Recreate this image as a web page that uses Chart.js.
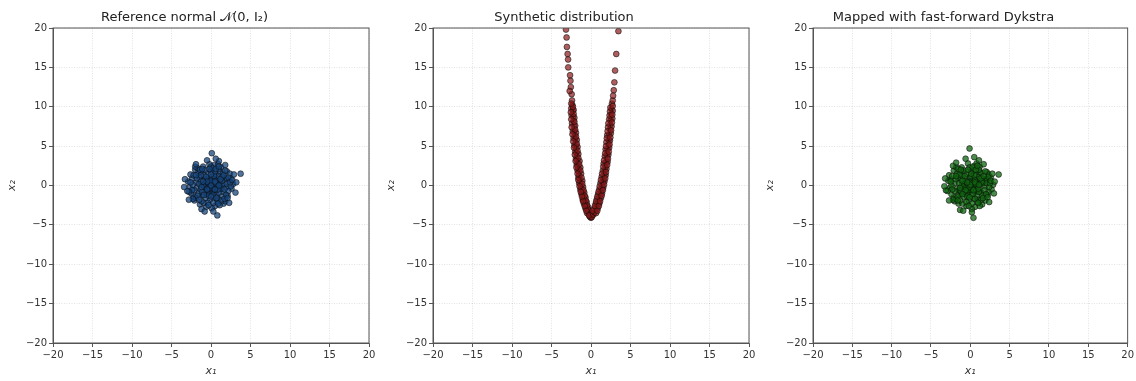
<!DOCTYPE html>
<html>
<head>
<meta charset="utf-8">
<script src="https://cdn.jsdelivr.net/npm/chart.js@4/dist/chart.umd.min.js"></script>
<style>
  body { margin: 0; background: #fff; }
  .panel { position: absolute; top: 0; height: 381px; }
</style>
</head>
<body>
<div class="panel" style="left:0px"><canvas id="c1" width="379" height="381"></canvas></div>
<div class="panel" style="left:379px"><canvas id="c2" width="379" height="381"></canvas></div>
<div class="panel" style="left:758px"><canvas id="c3" width="378" height="381"></canvas></div>
<script>
// axis ticks shared by all three panels
const tickValues = [-20, -15, -10, -5, 0, 5, 10, 15, 20];

// samples from the reference gaussian
const refPoints = [
  [0.1,0.2],[-0.4,0.5],[0.6,-0.3],[-0.7,-0.4],[0.3,0.8],[-0.2,-0.9],[0.9,0.4],[-0.9,0.3],[0.5,-0.8],[-0.5,-0.1],
  [0.0,-0.4],[0.2,0.5],[-0.3,0.1],[0.7,0.1],[-0.1,0.9],[0.4,-0.1],[-0.8,0.8],[0.8,0.9],[-0.6,-0.9],[0.1,-0.7],
  [0.25,-0.15],[-0.15,0.35],[0.55,0.6],[-0.65,0.15],[0.35,-0.45],[-0.35,-0.6],[0.75,-0.55],[-0.85,-0.15],[0.15,1.1],[-0.25,-1.1],
  [1.2,-0.1],[-1.2,0.25],[0.45,0.25],[-0.45,0.85],[0.95,-0.15],[-0.05,0.6],
  [1.2,0.3],[-1.3,0.6],[1.5,-0.8],[-1.1,-1.2],[0.6,1.5],[-0.4,1.6],[1.0,1.2],[-1.5,1.1],[0.3,-1.5],[-0.7,-1.6],
  [1.7,0.9],[-1.8,-0.3],[1.4,-1.4],[-1.2,1.7],[0.9,-1.7],[-1.9,0.4],[1.9,-0.2],[0.0,1.9],[-0.1,-1.8],[1.1,1.8],
  [-1.6,-1.0],[1.6,0.1],[-0.9,1.3],[0.4,1.2],[-1.3,-0.5],[1.3,-0.4],[-0.3,-1.3],[0.7,-1.2],[-1.0,0.0],[1.0,-0.9],
  [2.3,0.6],[-2.4,0.9],[2.1,-1.3],[-2.2,-1.4],[1.3,2.3],[-1.0,2.4],[0.4,2.6],[-0.2,2.7],[2.6,-0.4],[-2.7,-0.2],
  [1.6,-2.3],[-1.4,-2.4],[0.5,-2.6],[-0.6,-2.7],[2.0,1.8],[-2.0,2.0],[2.4,1.5],[-2.5,-1.0],[0.9,2.7],[-1.7,2.2],
  [2.8,0.2],[-2.9,0.5],[1.8,-2.0],[-2.1,-1.9],[0.1,-2.9],[0.0,2.4],[2.2,-0.7],[-2.3,0.1],[1.1,-2.5],[-0.9,-2.2],
  [1.5,1.5],[-1.6,1.6],[1.9,0.9],[-1.9,-1.6],[2.5,0.9],[-2.6,1.4],
  [0.6,0.3],[-0.2,-0.3],[1.4,0.6],[-1.5,0.2],[0.9,-0.5],[-0.6,1.1],[0.2,-1.2],[-1.1,-0.8],[1.7,-0.5],[-1.8,0.9],
  [0.5,1.8],[-0.7,2.0],[1.4,1.1],[-1.3,1.3],[0.8,-2.0],[-0.4,-2.2],[2.0,0.2],[-2.1,-0.6],[1.9,-1.2],[-1.7,-1.3],
  [2.2,1.0],[-2.2,1.3],[1.0,2.1],[-1.4,2.0],[0.2,2.2],[0.3,-2.2],[-1.2,-2.0],[1.3,-1.9],[2.5,-0.1],[-2.6,0.4],
  [0.0,0.0],[0.5,0.5],[-0.5,0.5],[-0.5,-0.5],[0.5,-0.5],[1.0,0.0],[-1.0,0.5],[0.0,1.4],[0.0,-1.4],[1.2,0.8],
  [-1.2,-0.2],[0.7,-1.6],[-0.9,-1.2],[1.6,1.3],[-1.9,1.3],[2.4,0.4],[-2.4,-0.6],[1.7,-1.7],[-1.1,2.1],[0.6,2.1],
  [-0.2,2.1],[2.1,-1.6],[-2.3,-1.7],[1.0,2.4],[-2.8,-0.8],[2.7,0.7],[-0.3,-2.5],[0.9,-2.3],[-1.5,-1.8],[1.8,1.9],
  [0.1,4.1],[3.75,1.5],[0.8,-3.8],[-2.0,2.4],[-3.3,0.8],[3.1,-0.9],[-3.0,-0.7],[-0.5,3.2],[1.0,3.1],[-1.2,-3.0],
  [2.3,-2.2],[-3.4,-0.2],[2.9,1.4],[0.3,-3.3],[-1.9,2.7],[3.2,0.4],[-2.8,-1.8],[1.8,2.6],[0.6,3.4],[-0.8,-3.3]
];

// synthetic banana-shaped samples
const synPoints = [
  [0.0,-4.1],[-0.15,-3.9],[0.15,-3.8],[-0.3,-3.6],[-0.4,-3.2],[-0.55,-3.0],[-0.6,-2.6],[-0.75,-2.4],[-0.8,-2.0],[-0.95,-1.7],
  [-1.0,-1.3],[-1.1,-1.0],[-1.15,-0.6],[-1.25,-0.3],[-1.3,0.1],[-1.4,0.5],[-1.45,0.9],[-1.5,1.3],[-1.55,1.8],[-1.6,2.2],
  [-1.7,2.7],[-1.75,3.2],[-1.8,3.7],[-1.85,4.2],[-1.9,4.8],[-1.95,5.3],[-2.0,5.9],[-2.05,6.4],[-2.1,7.0],[-2.15,7.6],
  [-2.2,8.2],[-2.25,8.8],[-2.3,9.5],[-2.35,10.2],[-2.4,10.8],
  [-0.5,-3.5],[-0.7,-2.9],[-0.9,-2.3],[-1.05,-1.8],[-1.2,-1.1],[-1.35,-0.5],[-1.5,0.3],[-1.6,1.0],[-1.7,1.9],[-1.8,2.6],
  [-1.9,3.4],[-2.0,4.3],[-2.1,5.1],[-2.2,6.0],[-2.3,6.9],[-2.4,7.9],[-2.45,8.9],[-2.5,9.8],
  [-0.2,-3.3],[-0.4,-2.7],[-0.55,-2.1],[-0.7,-1.5],[-0.85,-0.9],[-1.0,-0.2],[-1.1,0.6],[-1.25,1.5],[-1.35,2.3],[-1.45,3.1],
  [-1.6,4.0],[-1.7,4.9],[-1.8,5.8],[-1.9,6.7],[-2.0,7.6],[-2.1,8.6],[-2.2,9.6],
  [-0.1,-3.6],[-0.35,-3.0],[-0.5,-2.5],[-0.65,-1.9],[-0.8,-1.3],[-0.95,-0.6],[-1.1,0.2],[-1.2,1.0],[-1.35,1.9],[-1.5,2.7],
  [-1.6,3.5],[-1.7,4.4],[-1.8,5.3],[-1.9,6.2],[-2.0,7.1],[-2.1,8.1],[-2.2,9.1],[-2.3,10.0],
  [-0.6,-3.2],[-0.8,-2.6],[-1.0,-2.0],[-1.15,-1.4],[-1.3,-0.8],[-1.45,-0.1],[-1.6,0.7],[-1.7,1.5],[-1.85,2.3],[-1.95,3.1],
  [-2.05,3.9],[-2.15,4.8],[-2.25,5.6],[-2.35,6.5],[-2.45,7.4],[-2.5,8.4],[-2.55,9.3],[-2.5,10.4],
  [-2.45,11.6],[-2.55,12.5],[-2.6,13.3],[-2.65,14.0],[-2.88,15.0],[-2.96,16.7],[-3.05,17.6],[-3.09,18.8],[-3.17,19.8],[-2.7,12.0],[-2.9,16.0],
  [-0.1,-4.0],[0.1,-4.0],[0.05,-3.6],[-0.25,-3.8],[0.25,-3.5],
  [0.3,-3.7],[0.45,-3.4],[0.6,-3.1],[0.7,-2.7],[0.85,-2.4],[0.95,-2.0],[1.05,-1.6],[1.15,-1.2],[1.25,-0.8],[1.35,-0.4],
  [1.45,0.0],[1.55,0.5],[1.6,0.9],[1.7,1.4],[1.75,1.9],[1.85,2.4],[1.9,2.9],[2.0,3.5],[2.05,4.0],[2.1,4.6],
  [2.2,5.2],[2.25,5.8],[2.3,6.4],[2.4,7.1],[2.45,7.7],[2.5,8.3],[2.55,9.0],[2.6,9.7],[2.65,10.4],
  [0.65,-3.5],[0.85,-2.9],[1.05,-2.3],[1.25,-1.6],[1.4,-1.0],[1.55,-0.3],[1.7,0.5],[1.85,1.3],[1.95,2.1],[2.1,3.0],
  [2.2,3.9],[2.3,4.8],[2.4,5.7],[2.5,6.6],[2.6,7.5],[2.7,8.5],[2.75,9.5],
  [0.4,-2.9],[0.6,-2.3],[0.75,-1.7],[0.9,-1.1],[1.05,-0.5],[1.2,0.3],[1.35,1.1],[1.5,1.9],[1.6,2.8],[1.75,3.7],
  [1.85,4.6],[1.95,5.5],[2.05,6.4],[2.15,7.4],[2.3,8.4],[2.4,9.4],
  [0.2,-3.2],[0.5,-2.6],[0.65,-2.0],[0.8,-1.4],[0.95,-0.8],[1.1,-0.1],[1.25,0.7],[1.4,1.5],[1.55,2.4],[1.65,3.2],
  [1.8,4.1],[1.9,5.0],[2.0,6.0],[2.1,6.9],[2.2,7.9],[2.35,8.9],[2.45,9.9],
  [0.8,-3.2],[1.0,-2.6],[1.15,-2.0],[1.35,-1.3],[1.5,-0.6],[1.65,0.1],[1.8,0.9],[1.9,1.7],[2.05,2.6],[2.15,3.4],
  [2.25,4.3],[2.35,5.2],[2.45,6.1],[2.55,7.0],[2.65,8.0],[2.7,9.0],[2.75,10.1],
  [2.75,10.8],[2.88,12.1],[2.96,13.1],[3.05,14.6],[3.2,16.7],[3.47,19.6],[2.8,11.4]
];

// synthetic samples pushed back through the map
const mapPoints = [
  [0.2,0.1],[-0.3,0.6],[0.5,-0.4],[-0.6,-0.3],[0.4,0.9],[-0.1,-0.8],[0.8,0.5],[-0.8,0.2],[0.6,-0.9],[-0.4,-0.2],
  [0.1,-0.5],[0.3,0.4],[-0.2,0.2],[0.8,0.0],[0.0,1.0],[0.5,0.0],[-0.7,0.9],[0.9,0.8],[-0.5,-1.0],[0.2,-0.6],
  [0.3,-0.2],[-0.1,0.4],[0.6,0.7],[-0.7,0.0],[0.4,-0.5],[-0.4,-0.7],[0.8,-0.6],[-0.9,-0.2],[0.1,1.2],[-0.3,-1.2],
  [1.3,0.2],[-1.2,0.7],[1.4,-0.9],[-1.2,-1.1],[0.7,1.4],[-0.5,1.5],[1.1,1.1],[-1.6,1.0],[0.4,-1.6],[-0.8,-1.5],
  [1.8,0.8],[-1.7,-0.4],[1.5,-1.3],[-1.1,1.8],[1.0,-1.8],[-2.0,0.3],[1.9,-0.1],[0.1,1.8],[-0.2,-1.9],[1.2,1.7],
  [-1.5,-1.1],[1.6,0.3],[-1.0,1.2],[0.5,1.3],[-1.4,-0.6],[1.2,-0.5],[-0.4,-1.4],[0.8,-1.3],[-1.1,0.1],[1.1,-0.8],
  [2.2,0.7],[-2.5,0.8],[2.2,-1.2],[-2.1,-1.5],[1.2,2.4],[-1.1,2.3],[0.5,2.5],[-0.3,2.8],[2.7,-0.5],[-2.6,-0.3],
  [1.5,-2.4],[-1.5,-2.3],[0.6,-2.7],[-0.5,-2.6],[2.1,1.7],[-2.1,1.9],[2.3,1.4],[-2.4,-1.1],[0.8,2.8],[-1.8,2.3],
  [2.9,0.1],[-2.8,0.6],[1.9,-1.9],[-2.0,-2.0],[0.2,-3.0],[-0.1,2.3],[2.3,-0.8],[-2.4,0.0],[1.2,-2.6],[-1.0,-2.3],
  [1.4,1.6],[-1.7,1.5],[2.0,0.8],[-1.8,-1.7],[2.6,1.0],[-2.7,1.3],
  [0.7,0.2],[-0.1,-0.2],[1.5,0.5],[-1.4,0.3],[1.0,-0.4],[-0.7,1.2],[0.3,-1.1],[-1.2,-0.7],[1.8,-0.6],[-1.9,0.8],
  [0.4,1.9],[-0.8,1.9],[1.5,1.0],[-1.4,1.4],[0.9,-2.1],[-0.5,-2.1],[2.1,0.3],[-2.0,-0.7],[2.0,-1.1],[-1.6,-1.4],
  [2.3,1.1],[-2.3,1.2],[1.1,2.0],[-1.5,2.1],[0.3,2.3],[0.2,-2.3],[-1.3,-1.9],[1.4,-1.8],[2.4,-0.2],[-2.5,0.5],
  [0.0,0.1],[0.6,0.4],[-0.4,0.4],[-0.6,-0.6],[0.4,-0.6],[1.1,0.1],[-1.0,0.6],[0.1,1.5],[-0.1,-1.5],[1.3,0.9],
  [-1.3,-0.3],[0.6,-1.7],[-1.0,-1.1],[1.7,1.2],[-1.8,1.2],[2.5,0.3],[-2.3,-0.5],[1.6,-1.6],[-1.2,2.0],[0.7,2.0],
  [-0.3,2.0],[2.2,-1.5],[-2.2,-1.8],[0.9,2.5],[-2.9,-0.7],[2.6,0.6],[-0.2,-2.6],[1.0,-2.2],[-1.6,-1.9],[1.9,1.8],
  [-0.1,4.7],[3.6,1.4],[0.4,-4.1],[-2.2,2.5],[-3.2,0.9],[3.0,-1.0],[-3.1,-0.6],[-0.6,3.4],[1.1,3.2],[-1.3,-3.1],
  [2.4,-2.1],[-3.3,-0.1],[2.8,1.5],[0.2,-3.4],[-1.8,2.9],[3.1,0.5],[-2.7,-1.9],[1.7,2.7],[0.5,3.6],[-0.9,-3.2]
];

// full box around the plot area, like matplotlib spines
const frame = {
  id: 'frame',
  afterDraw(chart) {
    const { ctx, chartArea: a } = chart;
    ctx.save();
    ctx.strokeStyle = '#555';
    ctx.lineWidth = 1;
    ctx.strokeRect(a.left, a.top, a.right - a.left, a.bottom - a.top);
    ctx.restore();
  }
};

const minus = v => String(v).replace('-', '\u2212');

function axis(isX, yWidth) {
  return {
    type: 'linear',
    min: -20,
    max: 20,
    afterBuildTicks: s => { s.ticks = tickValues.map(v => ({ value: v })); },
    afterFit: s => { if (isX) s.height = 38; else s.width = yWidth; },
    ticks: {
      color: '#333',
      font: { family: 'DejaVu Sans', size: 10 },
      padding: 2,
      callback: minus
    },
    grid: {
      color: 'rgba(0,0,0,0.14)',
      lineWidth: 0.8,
      tickColor: '#555',
      tickLength: 4,
      tickWidth: 1,
      tickBorderDash: []
    },
    border: { color: '#555', dash: [1, 1.5] },
    title: {
      display: true,
      text: isX ? 'x\u2081' : 'x\u2082',
      color: '#333',
      font: { family: 'DejaVu Sans', size: 11, style: 'italic' },
      padding: isX ? { top: 0, bottom: 3 } : { top: 6, bottom: 4 }
    }
  };
}

function makeChart(id, title, points, fill, yWidth, padRight) {
  new Chart(document.getElementById(id), {
    type: 'scatter',
    data: {
      datasets: [{
        data: points.map(p => ({ x: p[0], y: p[1] })),
        pointRadius: 2.9,
        pointBackgroundColor: fill,
        pointBorderColor: 'rgba(10,10,10,0.7)',
        pointBorderWidth: 0.8
      }]
    },
    options: {
      responsive: false,
      animation: false,
      layout: { padding: { left: 0, right: padRight, top: 0, bottom: 0 } },
      plugins: {
        legend: { display: false },
        tooltip: { enabled: false },
        title: {
          display: true,
          text: title,
          color: '#222',
          font: { family: 'DejaVu Sans', size: 13, weight: 'normal' },
          padding: { top: 10, bottom: 2.4 }
        }
      },
      scales: { x: axis(true), y: axis(false, yWidth) }
    },
    plugins: [frame]
  });
}

makeChart('c1', 'Reference normal \uD835\uDCA9(0, I\u2082)', refPoints, 'rgba(22,70,125,0.75)', 53, 10);
makeChart('c2', 'Synthetic distribution', synPoints, 'rgba(140,25,25,0.7)', 54, 9);
makeChart('c3', 'Mapped with fast-forward Dykstra', mapPoints, 'rgba(15,100,15,0.75)', 55, 7);
</script>
</body>
</html>
